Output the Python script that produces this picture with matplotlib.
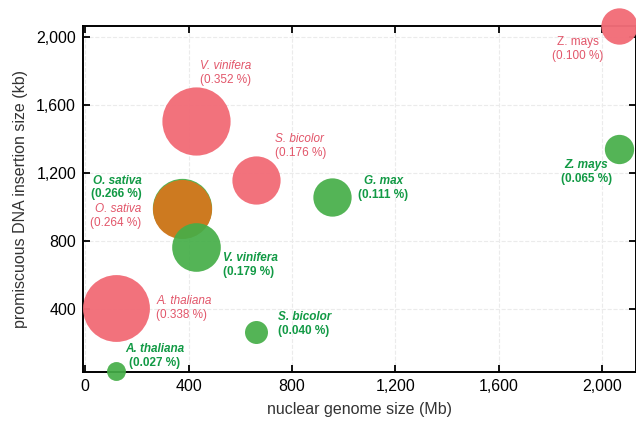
import matplotlib
matplotlib.use('Agg')
import matplotlib.pyplot as plt
from matplotlib.ticker import FuncFormatter

# Red series (larger percentages) and green series (smaller percentages)
red_species = ['A. thaliana', 'O. sativa', 'V. vinifera', 'S. bicolor', 'Z. mays']
red_genome = [120, 373, 427, 659, 2066]      # Mb
red_insert = [405, 985, 1503, 1160, 2066]    # kb
red_pct = [0.338, 0.264, 0.352, 0.176, 0.100]

green_species = ['A. thaliana', 'O. sativa', 'V. vinifera', 'S. bicolor', 'G. max', 'Z. mays']
green_genome = [120, 373, 427, 659, 955, 2066]
green_insert = [32, 992, 764, 264, 1060, 1343]
green_pct = [0.027, 0.266, 0.179, 0.040, 0.111, 0.065]

x_ticks = [0, 400, 800, 1200, 1600, 2000]
y_ticks = [400, 800, 1200, 1600, 2000]

# label placement (offset in points from bubble centre, alignment)
red_label_pos = {
    'A. thaliana': (29, 0, 'left'),
    'O. sativa': (-29, -5, 'right'),
    'V. vinifera': (3, 35, 'left'),
    'S. bicolor': (14, 24, 'left'),
    'Z. mays': (-30, -17, 'center'),
}
green_label_pos = {
    'A. thaliana': (28, 11, 'center'),
    'O. sativa': (-29, 15, 'right'),
    'V. vinifera': (20, -13, 'left'),
    'S. bicolor': (16, 6, 'left'),
    'G. max': (37, 6, 'center'),
    'Z. mays': (-24, -17, 'center'),
}

RED = '#f26d78'
GREEN = '#45ae48'
OVERLAP = '#d2781f'
RED_TXT = '#e2566a'
GREEN_TXT = '#129a45'
SCALE = 6850  # marker area per percent

plt.rcParams['font.family'] = ['Liberation Sans', 'DejaVu Sans']

fig = plt.figure(figsize=(6.36, 4.26), dpi=100)
ax = fig.add_axes([0.1305, 0.127, 0.8695, 0.812])

for name, x, y, p in zip(green_species, green_genome, green_insert, green_pct):
    z = 2 if name == 'O. sativa' else 4
    ax.scatter(x, y, s=SCALE * p, color=GREEN, alpha=0.92, linewidths=0,
               zorder=z, clip_on=False)

for name, x, y, p in zip(red_species, red_genome, red_insert, red_pct):
    c = OVERLAP if name == 'O. sativa' else RED
    ax.scatter(x, y, s=SCALE * p, color=c, alpha=0.97, linewidths=0,
               zorder=3, clip_on=False)

def add_labels(names, xs, ys, pcts, pos, color, weight):
    for name, x, y, p in zip(names, xs, ys, pcts):
        dx, dy, ha = pos[name]
        style = 'normal' if (name == 'Z. mays' and weight == 'normal') else 'italic'
        ax.annotate(name, (x, y), xytext=(dx, dy + 5), textcoords='offset points',
                    ha=ha, va='center', fontsize=8.5, color=color,
                    fontstyle=style, fontweight=weight, zorder=6)
        ax.annotate('({:.3f} %)'.format(p), (x, y), xytext=(dx, dy - 5),
                    textcoords='offset points', ha=ha, va='center',
                    fontsize=8.5, color=color, fontweight=weight, zorder=6)

add_labels(red_species, red_genome, red_insert, red_pct, red_label_pos, RED_TXT, 'normal')
add_labels(green_species, green_genome, green_insert, green_pct, green_label_pos, GREEN_TXT, 'bold')

ax.set_xlim(-8, 2130)
ax.set_ylim(29, 2065)
ax.set_xticks(x_ticks)
ax.set_yticks(y_ticks)
fmt = FuncFormatter(lambda v, pos: '{:,.0f}'.format(v))
ax.xaxis.set_major_formatter(fmt)
ax.yaxis.set_major_formatter(fmt)
ax.tick_params(direction='in', length=5, width=1.3, top=True, right=True,
               labelsize=11.5, pad=5)
ax.grid(True, color='#ebebeb', linestyle='--', linewidth=0.8, zorder=0)
ax.set_axisbelow(True)
for sp in ax.spines.values():
    sp.set_linewidth(1.4)

ax.set_xlabel('nuclear genome size (Mb)', fontsize=11.5, labelpad=6, color='#333333')
ax.set_ylabel('promiscuous DNA insertion size (kb)', fontsize=11.5, labelpad=6, color='#333333')

fig.savefig('out.png', dpi=100)
